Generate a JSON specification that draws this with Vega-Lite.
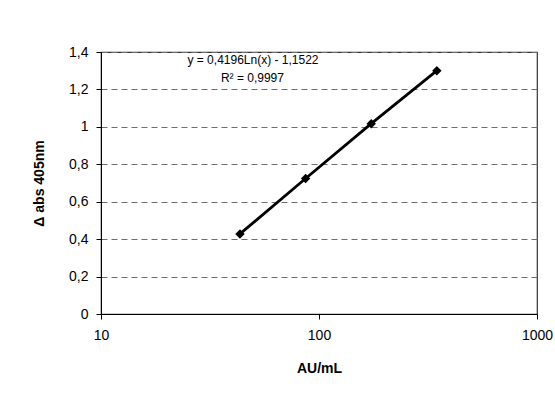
{
  "$schema": "https://vega.github.io/schema/vega-lite/v6.json",
  "width": 436,
  "height": 262,
  "autosize": {"type": "none"},
  "padding": {"left": 101, "top": 52, "right": 18, "bottom": 80},
  "background": "white",
  "config": {
    "view": {"stroke": "#333333", "strokeWidth": 1.2},
    "font": "Liberation Sans",
    "axis": {"labelFont": "Liberation Sans", "titleFont": "Liberation Sans", "labelColor": "black", "titleColor": "black", "domainColor": "black", "tickColor": "black", "labelOverlap": false}
  },
  "datasets": {
    "pts": [
      {"conc": 43.4, "abs": 0.428},
      {"conc": 86.8, "abs": 0.724},
      {"conc": 173.6, "abs": 1.017},
      {"conc": 347.2, "abs": 1.300}
    ],
    "notes": [
      {"conc": 49.8, "abs": 1.357, "label": "y = 0,4196Ln(x) - 1,1522"},
      {"conc": 49.5, "abs": 1.262, "label": "R² = 0,9997"}
    ]
  },
  "encoding": {
    "x": {
      "field": "conc", "type": "quantitative",
      "scale": {"type": "log", "domain": [10, 1000], "nice": false},
      "axis": {
        "values": [10, 100, 1000], "grid": false, "tickSize": 5,
        "labelExpr": "toString(datum.value)",
        "labelFontSize": 14, "labelPadding": 9, "labelFlush": false,
        "title": "AU/mL", "titleFontSize": 14, "titleFontWeight": "bold", "titlePadding": 19
      }
    },
    "y": {
      "field": "abs", "type": "quantitative",
      "scale": {"domain": [0, 1.4], "nice": false, "zero": true},
      "axis": {
        "values": [0, 0.2, 0.4, 0.6, 0.8, 1, 1.2, 1.4],
        "labelExpr": "replace(format(datum.value, '.1~f'), '.', ',')",
        "grid": true, "gridDash": [6, 4], "gridColor": "#6e6e6e", "gridWidth": 1.2,
        "tickSize": 5, "labelFontSize": 14, "labelPadding": 8,
        "title": "Δ abs 405nm", "titleFontSize": 14, "titleFontWeight": "bold", "titlePadding": 22
      }
    }
  },
  "layer": [
    {
      "data": {"name": "pts"},
      "mark": {"type": "line", "color": "black", "strokeWidth": 2.8}
    },
    {
      "data": {"name": "pts"},
      "mark": {"type": "point", "shape": "diamond", "filled": true, "color": "black", "size": 90, "opacity": 1}
    },
    {
      "data": {"name": "notes"},
      "mark": {"type": "text", "font": "Liberation Sans", "fontSize": 12, "color": "black", "align": "center", "baseline": "middle"},
      "encoding": {
        "text": {"field": "label"}
      }
    }
  ]
}
